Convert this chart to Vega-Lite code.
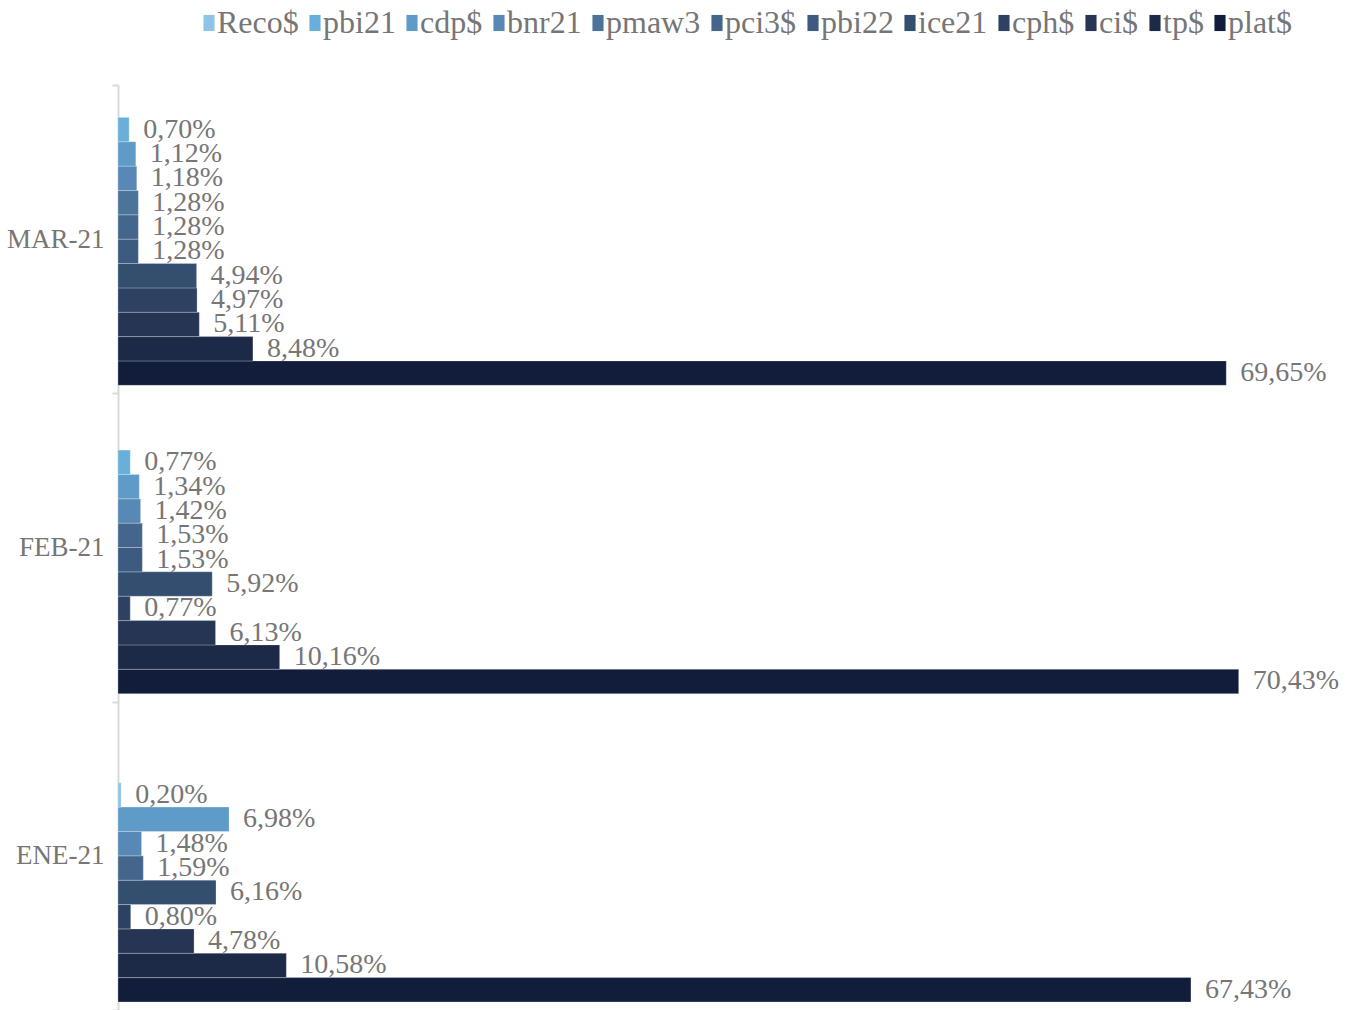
{
  "$schema": "https://vega.github.io/schema/vega-lite/v6.json",
  "autosize": {"type": "none"},
  "width": 1230,
  "height": 925,
  "padding": {"left": 118, "top": 85, "right": 14, "bottom": 0},
  "background": "#ffffff",
  "config": {
    "view": {"stroke": null},
    "locale": {"number": {"decimal": ",", "thousands": ".", "grouping": [3], "currency": ["", "€"]}},
    "legend": {"padding": 0}
  },
  "data": {
    "values": [
      {"month": "MAR-21", "series": "plat$", "share": 0.6965},
      {"month": "MAR-21", "series": "tp$", "share": 0.0848},
      {"month": "MAR-21", "series": "ci$", "share": 0.0511},
      {"month": "MAR-21", "series": "cph$", "share": 0.0497},
      {"month": "MAR-21", "series": "ice21", "share": 0.0494},
      {"month": "MAR-21", "series": "pbi22", "share": 0.0128},
      {"month": "MAR-21", "series": "pci3$", "share": 0.0128},
      {"month": "MAR-21", "series": "pmaw3", "share": 0.0128},
      {"month": "MAR-21", "series": "bnr21", "share": 0.0118},
      {"month": "MAR-21", "series": "cdp$", "share": 0.0112},
      {"month": "MAR-21", "series": "pbi21", "share": 0.0070},
      {"month": "FEB-21", "series": "plat$", "share": 0.7043},
      {"month": "FEB-21", "series": "tp$", "share": 0.1016},
      {"month": "FEB-21", "series": "ci$", "share": 0.0613},
      {"month": "FEB-21", "series": "cph$", "share": 0.0077},
      {"month": "FEB-21", "series": "ice21", "share": 0.0592},
      {"month": "FEB-21", "series": "pbi22", "share": 0.0153},
      {"month": "FEB-21", "series": "pci3$", "share": 0.0153},
      {"month": "FEB-21", "series": "bnr21", "share": 0.0142},
      {"month": "FEB-21", "series": "cdp$", "share": 0.0134},
      {"month": "FEB-21", "series": "pbi21", "share": 0.0077},
      {"month": "ENE-21", "series": "plat$", "share": 0.6743},
      {"month": "ENE-21", "series": "tp$", "share": 0.1058},
      {"month": "ENE-21", "series": "ci$", "share": 0.0478},
      {"month": "ENE-21", "series": "cph$", "share": 0.0080},
      {"month": "ENE-21", "series": "ice21", "share": 0.0616},
      {"month": "ENE-21", "series": "pci3$", "share": 0.0159},
      {"month": "ENE-21", "series": "bnr21", "share": 0.0148},
      {"month": "ENE-21", "series": "cdp$", "share": 0.0698},
      {"month": "ENE-21", "series": "Reco$", "share": 0.0020}
    ]
  },
  "transform": [
    {"window": [{"op": "row_number", "as": "slot"}], "groupby": ["month"]}
  ],
  "encoding": {
    "y": {
      "field": "month",
      "type": "nominal",
      "scale": {"domain": ["MAR-21", "FEB-21", "ENE-21"], "paddingInner": 0, "paddingOuter": 0},
      "axis": {
        "title": null,
        "domainColor": "#d9d9d9",
        "domainWidth": 2,
        "tickColor": "#d9d9d9",
        "tickWidth": 2,
        "tickSize": 6,
        "tickBand": "extent",
        "labelPadding": 8,
        "labelFont": "Liberation Serif",
        "labelFontSize": 27,
        "labelColor": "#767676",
        "labelAngle": 0
      }
    },
    "yOffset": {
      "field": "slot",
      "type": "ordinal",
      "scale": {"domain": [12, 11, 10, 9, 8, 7, 6, 5, 4, 3, 2, 1], "paddingInner": 0, "paddingOuter": 0.33}
    },
    "x": {
      "field": "share",
      "type": "quantitative",
      "scale": {"domain": [0, 0.773], "nice": false, "zero": true},
      "axis": null
    }
  },
  "layer": [
    {
      "mark": {"type": "bar", "stroke": "#ffffff", "strokeWidth": 0.7, "strokeOpacity": 0.35},
      "encoding": {
        "color": {
          "field": "series",
          "type": "nominal",
          "scale": {
            "domain": ["Reco$", "pbi21", "cdp$", "bnr21", "pmaw3", "pci3$", "pbi22", "ice21", "cph$", "ci$", "tp$", "plat$"],
            "range": ["#8ec4e6", "#6aaedc", "#5f9bc8", "#5888b5", "#4c7499", "#44668c", "#3d5b80", "#344e70", "#2d4263", "#263553", "#1c2a48", "#111d3b"]
          },
          "legend": {
            "title": null,
            "orient": "none",
            "legendX": 75,
            "legendY": -78,
            "direction": "horizontal",
            "columns": 12,
            "columnPadding": -6,
            "labelOffset": -8,
            "labelFont": "Liberation Serif",
            "labelFontSize": 32,
            "labelColor": "#767676",
            "symbolType": "M-0.69,-1H0.69V1H-0.69Z",
            "symbolSize": 260,
            "symbolStrokeWidth": 0
          }
        }
      }
    },
    {
      "mark": {"type": "text", "align": "left", "baseline": "middle", "dx": 14, "font": "Liberation Serif", "fontSize": 28, "color": "#767676"},
      "encoding": {
        "text": {"field": "share", "type": "quantitative", "format": ".2%"}
      }
    }
  ]
}
